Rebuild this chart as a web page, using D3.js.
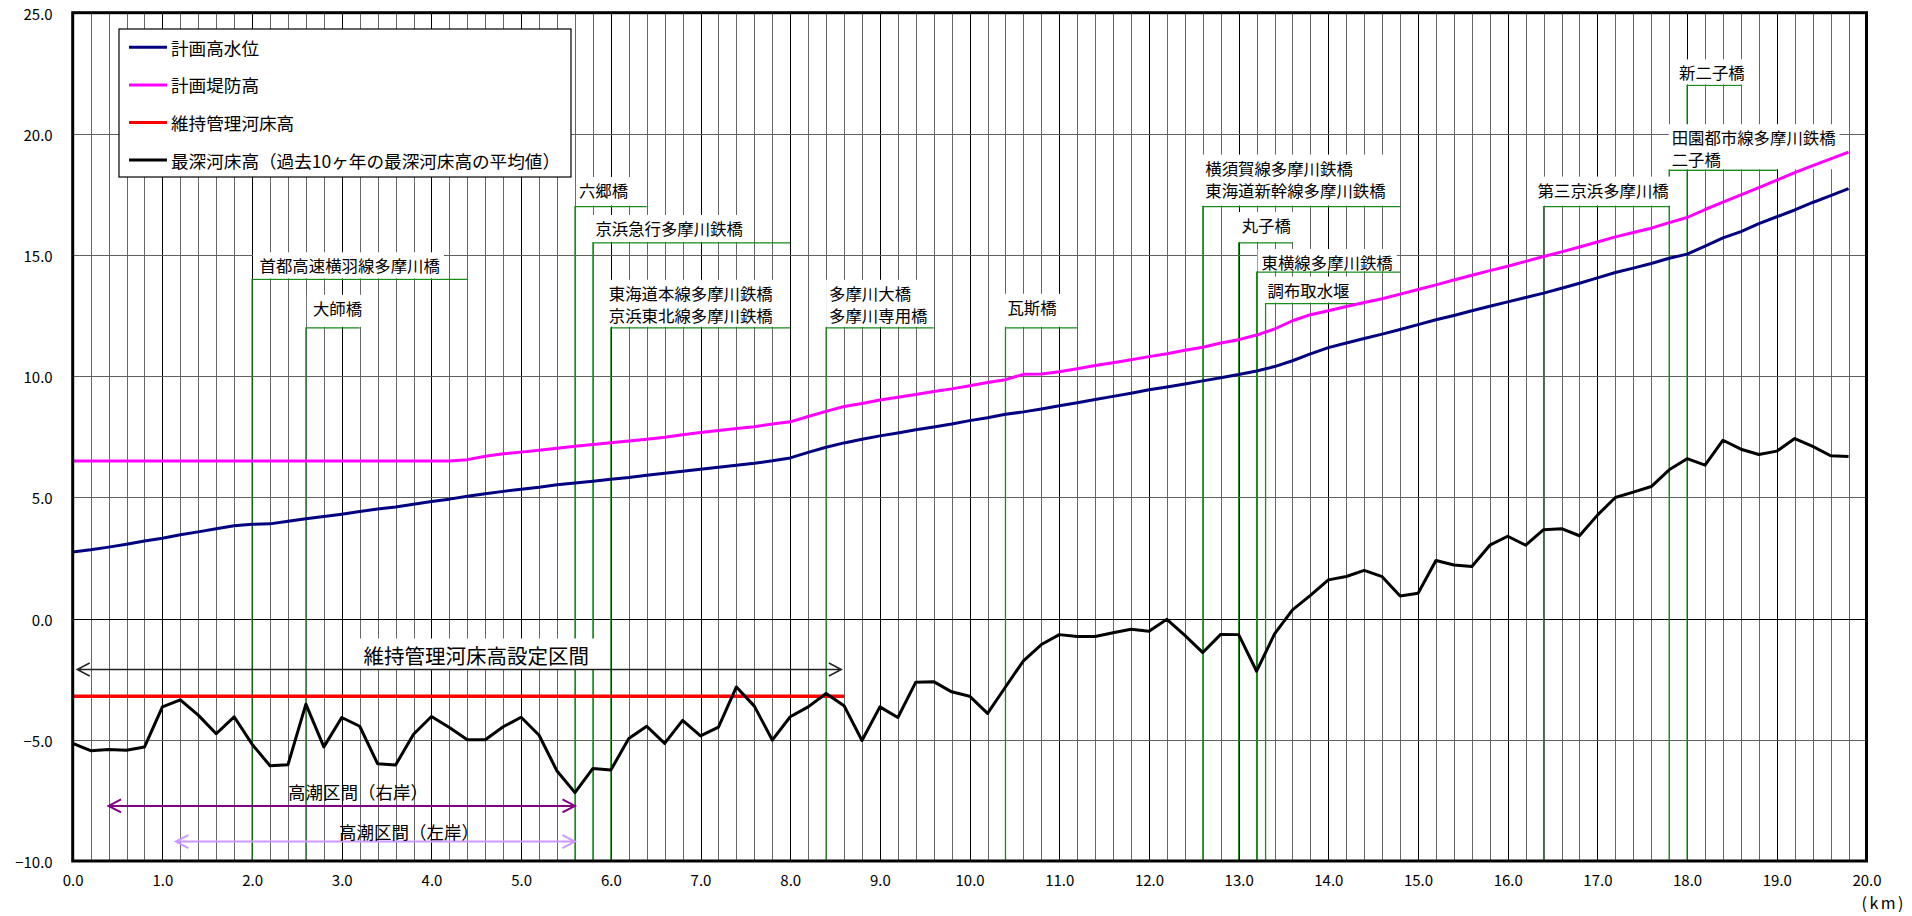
<!DOCTYPE html>
<html lang="ja">
<head>
<meta charset="utf-8">
<title>多摩川 縦断図</title>
<script src="https://cdn.jsdelivr.net/npm/d3@7"></script>
<style>
  html, body { margin: 0; padding: 0; background: #fff; }
  svg { display: block; font-family: "Noto Sans CJK JP", "Noto Sans", sans-serif; }
</style>
</head>
<body>
<svg id="chart" width="1912" height="916"></svg>
<script>
// ---- data -------------------------------------------------------------
// distance from the river mouth (km)
const distanceKm = [
  0.0, 0.2, 0.4, 0.6, 0.8, 1.0, 1.2, 1.4, 1.6, 1.8,
  2.0, 2.2, 2.4, 2.6, 2.8, 3.0, 3.2, 3.4, 3.6, 3.8,
  4.0, 4.2, 4.4, 4.6, 4.8, 5.0, 5.2, 5.4, 5.6, 5.8,
  6.0, 6.2, 6.4, 6.6, 6.8, 7.0, 7.2, 7.4, 7.6, 7.8,
  8.0, 8.2, 8.4, 8.6, 8.8, 9.0, 9.2, 9.4, 9.6, 9.8,
  10.0, 10.2, 10.4, 10.6, 10.8, 11.0, 11.2, 11.4, 11.6, 11.8,
  12.0, 12.2, 12.4, 12.6, 12.8, 13.0, 13.2, 13.4, 13.6, 13.8,
  14.0, 14.2, 14.4, 14.6, 14.8, 15.0, 15.2, 15.4, 15.6, 15.8,
  16.0, 16.2, 16.4, 16.6, 16.8, 17.0, 17.2, 17.4, 17.6, 17.8,
  18.0, 18.2, 18.4, 18.6, 18.8, 19.0, 19.2, 19.4, 19.6, 19.8
];

// 計画高水位 (m)
const planHighWater = [
  2.75, 2.84, 2.95, 3.07, 3.20, 3.32, 3.46, 3.58, 3.71, 3.83,
  3.89, 3.91, 4.02, 4.12, 4.21, 4.31, 4.42, 4.52, 4.61, 4.72,
  4.83, 4.93, 5.05, 5.15, 5.25, 5.34, 5.42, 5.52, 5.60, 5.67,
  5.75, 5.82, 5.92, 6.00, 6.08, 6.16, 6.25, 6.33, 6.41, 6.51,
  6.63, 6.86, 7.07, 7.25, 7.40, 7.54, 7.66, 7.79, 7.91, 8.03,
  8.17, 8.29, 8.43, 8.53, 8.65, 8.78, 8.91, 9.04, 9.17, 9.30,
  9.44, 9.56, 9.68, 9.81, 9.94, 10.07, 10.22, 10.40, 10.64, 10.92,
  11.18, 11.37, 11.56, 11.74, 11.93, 12.13, 12.33, 12.51, 12.70, 12.89,
  13.07, 13.25, 13.43, 13.63, 13.84, 14.06, 14.28, 14.46, 14.65, 14.87,
  15.04, 15.37, 15.71, 15.97, 16.30, 16.58, 16.86, 17.17, 17.45, 17.74
];

// 計画堤防高 (m)
const planLevee = [
  6.50, 6.50, 6.50, 6.50, 6.50, 6.50, 6.50, 6.50, 6.50, 6.50,
  6.50, 6.50, 6.50, 6.50, 6.50, 6.50, 6.50, 6.50, 6.50, 6.50,
  6.50, 6.50, 6.56, 6.70, 6.80, 6.87, 6.95, 7.03, 7.11, 7.18,
  7.26, 7.33, 7.40, 7.48, 7.59, 7.68, 7.76, 7.84, 7.92, 8.03,
  8.12, 8.34, 8.55, 8.75, 8.88, 9.02, 9.13, 9.25, 9.37, 9.48,
  9.61, 9.74, 9.86, 10.08, 10.09, 10.19, 10.31, 10.44, 10.56, 10.68,
  10.81, 10.93, 11.07, 11.20, 11.37, 11.51, 11.70, 11.95, 12.29, 12.54,
  12.70, 12.88, 13.04, 13.20, 13.39, 13.58, 13.77, 13.97, 14.17, 14.36,
  14.54, 14.74, 14.94, 15.13, 15.33, 15.54, 15.75, 15.93, 16.11, 16.34,
  16.55, 16.88, 17.18, 17.48, 17.78, 18.09, 18.40, 18.69, 18.97, 19.25
];

// 最深河床高 (past 10-year average of the deepest bed, m)
const deepestBed = [
  -5.15, -5.45, -5.40, -5.43, -5.30, -3.64, -3.35, -3.98, -4.75, -4.05,
  -5.18, -6.07, -6.03, -3.53, -5.29, -4.08, -4.44, -5.99, -6.04, -4.77,
  -4.04, -4.49, -5.00, -5.00, -4.46, -4.07, -4.81, -6.29, -7.18, -6.18,
  -6.25, -4.95, -4.44, -5.15, -4.20, -4.84, -4.48, -2.82, -3.61, -5.01,
  -4.05, -3.64, -3.09, -3.59, -5.03, -3.64, -4.08, -2.62, -2.60, -3.02,
  -3.20, -3.91, -2.82, -1.74, -1.07, -0.66, -0.74, -0.74, -0.58, -0.44,
  -0.52, -0.03, -0.69, -1.40, -0.65, -0.66, -2.17, -0.63, 0.36, 0.96,
  1.60, 1.74, 1.99, 1.73, 0.93, 1.05, 2.40, 2.21, 2.15, 3.03,
  3.40, 3.03, 3.67, 3.71, 3.42, 4.27, 5.00, 5.22, 5.45, 6.14,
  6.60, 6.33, 7.36, 6.99, 6.77, 6.91, 7.43, 7.11, 6.72, 6.69
];

// 維持管理河床高 (set for 0.0 – 8.6 km)
const maintenanceKm = [0.0, 8.6];
const maintenanceBed = [-3.2, -3.2];

// crossing structures: name lines, km, leader level (m), leader end (km)
const bridgeNames = [
  ["首都高速横羽線多摩川橋"],
  ["大師橋"],
  ["六郷橋"],
  ["京浜急行多摩川鉄橋"],
  ["東海道本線多摩川鉄橋", "京浜東北線多摩川鉄橋"],
  ["多摩川大橋", "多摩川専用橋"],
  ["瓦斯橋"],
  ["横須賀線多摩川鉄橋", "東海道新幹線多摩川鉄橋"],
  ["丸子橋"],
  ["東横線多摩川鉄橋"],
  ["調布取水堰"],
  ["第三京浜多摩川橋"],
  ["田園都市線多摩川鉄橋", "二子橋"],
  ["新二子橋"]
];
const bridgeKm = [2.0, 2.6, 5.6, 5.8, 6.0, 8.4, 10.4, 12.6, 13.0, 13.2, 13.3, 16.4, 17.8, 18.0];
const bridgeLeaderLevel = [14.0, 12.0, 17.0, 15.5, 12.0, 12.0, 12.0, 17.0, 15.5, 14.3, 13.0, 17.0, 18.5, 22.0];
const bridgeLeaderEndKm = [4.4, 3.2, 6.4, 8.0, 8.0, 9.6, 11.2, 14.8, 13.6, 14.8, 14.4, 17.8, 19.0, 18.6];

// section arrows: label, from km, to km, level (m)
const sectionLabels = ["維持管理河床高設定区間", "高潮区間（右岸）", "高潮区間（左岸）"];
const sectionFromKm = [0.05, 0.4, 1.15];
const sectionToKm = [8.57, 5.6, 5.6];
const sectionLevel = [-2.1, -7.73, -9.2];

// axis ticks
const xTickKm = [0, 1, 2, 3, 4, 5, 6, 7, 8, 9, 10, 11, 12, 13, 14, 15, 16, 17, 18, 19, 20];
const yTickM = [-10, -5, 0, 5, 10, 15, 20, 25];

const legendLabels = ["計画高水位", "計画堤防高", "維持管理河床高", "最深河床高（過去10ヶ年の最深河床高の平均値）"];

// ---- layout / style ---------------------------------------------------
const plot = { left: 72.7, right: 1866.5, top: 12.7, bottom: 861 };
const seriesColor = ["#000080", "#ff00ff", "#ff0000", "#000000"];
const green = "#1a8c1a";
// label placement relative to each structure's leader (px): left offset, centre of last line
const bridgeLabelDx = [7.5, 7, 4, 2.5, -2, 3, 2, 2.5, 3, 5, 2, -6, 2.5, -8];
const bridgeLabelDy = [-14, -20, -16.5, -15, -13, -13, -21, -17, -18, -10, -14, -17, -11, -13];
const sectionColor = ["#222222", "#800080", "#cc99ff"];
const sectionWidth = [1.5, 2, 2];
const sectionLabelKm = [4.5, 3.18, 3.75];
const sectionLabelDy = [-15, -14, -10];
const sectionLabelSize = [20.5, 17.5, 17.5];
const sectionLabelBg = [true, false, false];

// ---- scales -----------------------------------------------------------
const x = d3.scaleLinear().domain([0, 20]).range([plot.left, plot.right]);
const y = d3.scaleLinear().domain([-10, 25]).range([plot.bottom, plot.top]);

const svg = d3.select("#chart");
const gGrid = svg.append("g");
const gGreen = svg.append("g");
const gBoxes = svg.append("g");
const gData = svg.append("g");
const gArrows = svg.append("g");
const gText = svg.append("g");
const gFrame = svg.append("g");
const gAxes = svg.append("g");

// ---- grid -------------------------------------------------------------
const gridKm = distanceKm.filter(d => d > 0);
gGrid.append("g")
  .attr("transform", `translate(0,${plot.bottom})`)
  .call(d3.axisBottom(x).tickValues(gridKm).tickSize(-(plot.bottom - plot.top)).tickFormat(""))
  .call(g => g.select(".domain").remove())
  .call(g => g.selectAll(".tick line")
    .attr("stroke", d => Math.abs(d - Math.round(d)) < 1e-6 ? "#000" : "#666")
    .attr("stroke-width", 1)
    .attr("shape-rendering", "crispEdges"));

gGrid.append("g")
  .attr("transform", `translate(${plot.left},0)`)
  .call(d3.axisLeft(y).tickValues(yTickM.filter(v => v > -10 && v < 25)).tickSize(-(plot.right - plot.left)).tickFormat(""))
  .call(g => g.select(".domain").remove())
  .call(g => g.selectAll(".tick line")
    .attr("stroke", d => d === 0 ? "#000" : "#606060")
    .attr("stroke-width", 1)
    .attr("shape-rendering", "crispEdges"));

// ---- structure leaders (green) ----------------------------------------
bridgeKm.forEach((km, i) => {
  gGreen.append("path")
    .attr("d", `M${x(km)},${y(-10)}V${y(bridgeLeaderLevel[i])}H${x(bridgeLeaderEndKm[i])}`)
    .attr("fill", "none")
    .attr("stroke", green)
    .attr("stroke-width", 1.3);
});

// ---- data lines -------------------------------------------------------
const lineGen = d3.line().x(d => x(d[0])).y(d => y(d[1]));
const zip = (a, b) => a.map((v, i) => [v, b[i]]);

gData.append("path").datum(zip(maintenanceKm, maintenanceBed))
  .attr("d", lineGen).attr("fill", "none").attr("stroke", seriesColor[2]).attr("stroke-width", 3.5);
gData.append("path").datum(zip(distanceKm, planLevee))
  .attr("d", lineGen).attr("fill", "none").attr("stroke", seriesColor[1]).attr("stroke-width", 3).attr("stroke-linejoin", "round");
gData.append("path").datum(zip(distanceKm, planHighWater))
  .attr("d", lineGen).attr("fill", "none").attr("stroke", seriesColor[0]).attr("stroke-width", 3).attr("stroke-linejoin", "round");
gData.append("path").datum(zip(distanceKm, deepestBed))
  .attr("d", lineGen).attr("fill", "none").attr("stroke", seriesColor[3]).attr("stroke-width", 3).attr("stroke-linejoin", "round");

// ---- section arrows ---------------------------------------------------
sectionLabels.forEach((label, i) => {
  const x0 = x(sectionFromKm[i]), x1 = x(sectionToKm[i]), yy = y(sectionLevel[i]);
  const ax = 12.5, ay = 6.5;
  gArrows.append("path")
    .attr("d", `M${x0},${yy}H${x1}M${x0 + ax},${yy - ay}L${x0},${yy}L${x0 + ax},${yy + ay}M${x1 - ax},${yy - ay}L${x1},${yy}L${x1 - ax},${yy + ay}`)
    .attr("fill", "none")
    .attr("stroke", sectionColor[i])
    .attr("stroke-width", sectionWidth[i]);
  const t = gText.append("text")
    .attr("x", x(sectionLabelKm[i]))
    .attr("y", yy + sectionLabelDy[i])
    .attr("text-anchor", "middle")
    .attr("dominant-baseline", "central")
    .attr("font-size", sectionLabelSize[i])
    .attr("fill", "#000")
    .text(label);
  if (sectionLabelBg[i]) {
    const b = t.node().getBBox();
    gBoxes.append("rect")
      .attr("x", b.x - 5).attr("y", b.y - 1)
      .attr("width", b.width + 10).attr("height", b.height + 1)
      .attr("fill", "#fff");
  }
});

// ---- structure labels -------------------------------------------------
bridgeNames.forEach((lines, i) => {
  const xv = x(bridgeKm[i]);
  const yl = y(bridgeLeaderLevel[i]);
  const left = xv + bridgeLabelDx[i];
  const n = lines.length;
  let maxW = 0;
  lines.forEach((s, j) => {
    const t = gText.append("text")
      .attr("x", left)
      .attr("y", yl + bridgeLabelDy[i] - (n - 1 - j) * 22)
      .attr("dominant-baseline", "central")
      .attr("font-size", 16.4)
      .attr("fill", "#000")
      .text(s);
    maxW = Math.max(maxW, t.node().getComputedTextLength());
  });
  const top = yl + bridgeLabelDy[i] - (n - 1) * 22 - 13;
  const bx0 = Math.min(xv + 1, left - 3);
  const bx1 = left + maxW + 4;
  gBoxes.append("rect")
    .attr("x", bx0).attr("y", top)
    .attr("width", bx1 - bx0).attr("height", yl - 1 - top)
    .attr("fill", "#fff");
});

// ---- legend -----------------------------------------------------------
gBoxes.append("rect")
  .attr("x", 119).attr("y", 29).attr("width", 452).attr("height", 148)
  .attr("fill", "#fff").attr("stroke", "#000").attr("stroke-width", 1.2);
legendLabels.forEach((label, i) => {
  const yy = 47.3 + i * 37.6;
  gText.append("line")
    .attr("x1", 129).attr("x2", 167).attr("y1", yy).attr("y2", yy)
    .attr("stroke", seriesColor[i]).attr("stroke-width", 3);
  gText.append("text")
    .attr("x", 171).attr("y", yy)
    .attr("dominant-baseline", "central")
    .attr("font-size", 17.6)
    .attr("fill", "#000")
    .text(label);
});

// ---- frame ------------------------------------------------------------
gFrame.append("rect")
  .attr("x", plot.left).attr("y", plot.top)
  .attr("width", plot.right - plot.left).attr("height", plot.bottom - plot.top)
  .attr("fill", "none").attr("stroke", "#000").attr("stroke-width", 3);

// ---- axis labels ------------------------------------------------------
gAxes.append("g")
  .attr("transform", `translate(0,${plot.bottom})`)
  .call(d3.axisBottom(x).tickValues(xTickKm).tickSize(0).tickFormat(d3.format(".1f")))
  .call(g => g.select(".domain").remove())
  .call(g => g.selectAll("text")
    .attr("y", 18).attr("dy", null)
    .attr("dominant-baseline", "central")
    .attr("font-size", 15)
    .attr("font-family", "\"Noto Sans CJK JP\", sans-serif")
    .attr("fill", "#000"));

gAxes.append("g")
  .attr("transform", `translate(${plot.left},0)`)
  .call(d3.axisLeft(y).tickValues(yTickM).tickSize(0).tickFormat(d3.format(".1f")))
  .call(g => g.select(".domain").remove())
  .call(g => g.selectAll("text")
    .attr("x", -20).attr("dy", null)
    .attr("dominant-baseline", "central")
    .attr("font-size", 15)
    .attr("font-family", "\"Noto Sans CJK JP\", sans-serif")
    .attr("fill", "#000"));

gAxes.append("text")
  .attr("x", 1906).attr("y", 902)
  .attr("text-anchor", "end")
  .attr("dominant-baseline", "central")
  .attr("font-size", 16)
  .attr("letter-spacing", 2.5)
  .attr("fill", "#000")
  .text("(km)");
</script>
</body>
</html>
